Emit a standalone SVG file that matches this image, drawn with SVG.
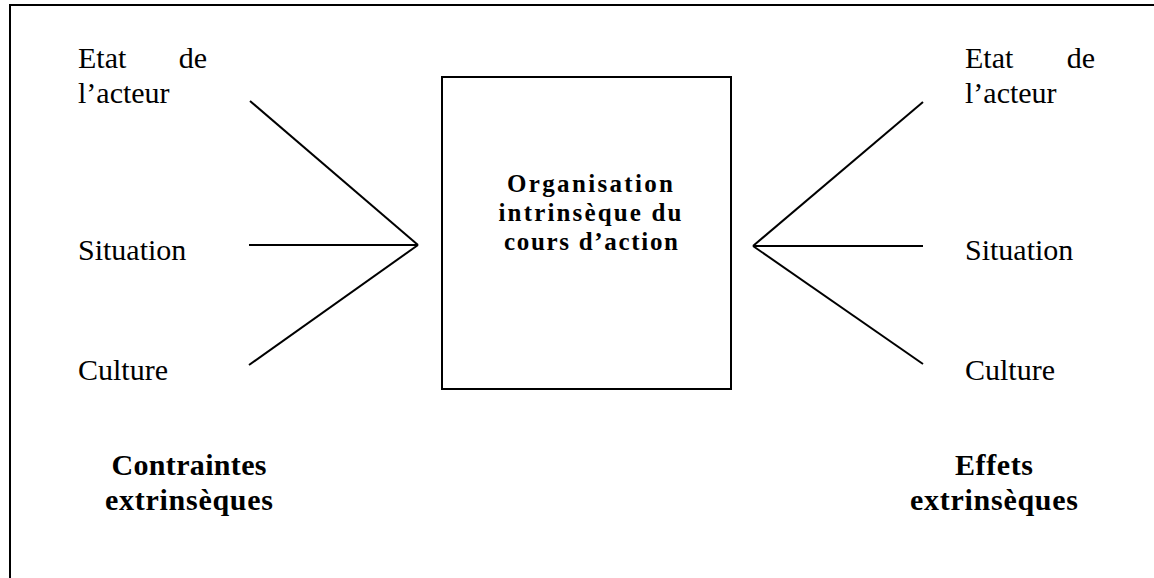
<svg xmlns="http://www.w3.org/2000/svg" width="1154" height="578" viewBox="0 0 1154 578">
<style>
text{font-family:"Liberation Serif","DejaVu Serif",serif;font-size:30px;fill:#000}
.b{font-weight:bold}
.m{font-size:25px}
.c{text-anchor:middle}
.e{text-anchor:end}
.ln{stroke:#000;stroke-width:2;fill:none}
</style>
<rect width="1154" height="578" fill="#fff"/>
<path id="frame" class="ln" d="M10,580 V5 H1156"/>
<g id="center">
<rect class="ln" x="442" y="77" width="289" height="312"/>
<text class="b c m" x="590" y="192" textLength="166">Organisation</text>
<text class="b c m" x="590" y="221" textLength="183">intrinsèque du</text>
<text class="b c m" x="591" y="250" textLength="174">cours d’action</text>
</g>
<g id="left-etat"><text x="78" y="68">Etat</text><text class="e" x="207" y="68">de</text><text x="78" y="103">l’acteur</text></g>
<g id="left-situation"><text x="78" y="260">Situation</text></g>
<g id="left-culture"><text x="78" y="380">Culture</text></g>
<g id="left-label"><text class="b c" x="189" y="475" textLength="155">Contraintes</text><text class="b c" x="189" y="510" textLength="168">extrinsèques</text></g>
<g id="right-etat"><text x="965" y="68">Etat</text><text class="e" x="1095" y="68">de</text><text x="965" y="103">l’acteur</text></g>
<g id="right-situation"><text x="965" y="260">Situation</text></g>
<g id="right-culture"><text x="965" y="380">Culture</text></g>
<g id="right-label"><text class="b c" x="994" y="475" textLength="78">Effets</text><text class="b c" x="994" y="510" textLength="168">extrinsèques</text></g>
<g id="connectors" class="ln">
<line x1="250" y1="101" x2="418" y2="245"/>
<line x1="249" y1="245" x2="418" y2="245"/>
<line x1="249" y1="365" x2="418" y2="245"/>
<line x1="923" y1="102" x2="753" y2="246"/>
<line x1="923" y1="246" x2="753" y2="246"/>
<line x1="923" y1="364" x2="753" y2="246"/>
</g>
</svg>
